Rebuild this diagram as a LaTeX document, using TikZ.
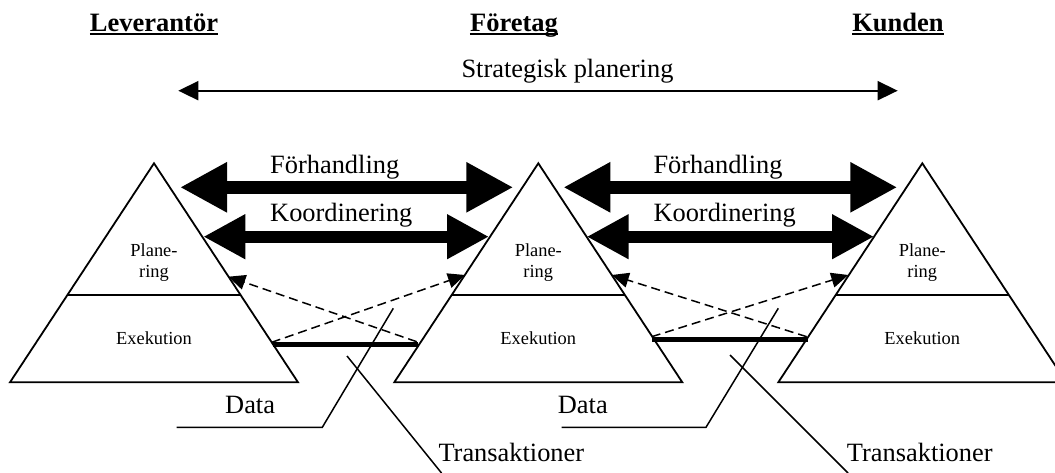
\documentclass[tikz,border=0pt]{standalone}
\usepackage{fontspec}
\setmainfont{Liberation Serif}
\usetikzlibrary{arrows.meta}
\begin{document}
\begin{tikzpicture}[x=1pt,y=-1pt,
  lbl/.style={inner sep=0pt, font=\fontsize{26.4}{30}\selectfont},
  head/.style={inner sep=0pt, font=\fontsize{26.5}{30}\selectfont\bfseries},
  small/.style={inner sep=0pt, font=\fontsize{18.4}{21.3}\selectfont},
  pyr/.style={line width=1.8pt, line join=miter},
  ul/.style={line width=2.4pt},
  strat/.style={line width=1.8pt, {Triangle[length=20pt,width=19pt]}-{Triangle[length=20pt,width=19pt]}},
  fatA/.style={line width=13pt, {Triangle[length=47pt,width=47pt]}-{Triangle[length=47pt,width=47pt]}},
  fatB/.style={line width=12pt, {Triangle[length=42pt,width=42pt]}-{Triangle[length=42pt,width=42pt]}},
  flow/.style={line width=1.5pt, dash pattern=on 9pt off 5pt, -{Triangle[length=17pt,width=15pt]}},
  trans/.style={line width=5pt},
  lead/.style={line width=1.5pt},
]
\useasboundingbox (0,0) rectangle (1055,473);
\clip (0,0) rectangle (1055,473);

% headings
\node[head, anchor=base] (lev) at (154,32) {Leverantör};
\node[head, anchor=base] (for) at (514,32) {Företag};
\node[head, anchor=base] (kun) at (898,32) {Kunden};
\foreach \h in {lev,for,kun}
  \draw[ul] ([yshift=-2pt]\h.base west) -- ([yshift=-2pt]\h.base east);

% strategic planning across the whole chain
\node[lbl, anchor=base] (strat) at (567.5,77.3) {Strategisk planering};
\coordinate (sL) at (178.3,90.7);
\coordinate (sR) at (897.7,90.7);
\draw[strat] (sL) -- (sR);

% the three pyramids
\foreach \n/\ax in {1/154,2/538.3,3/922.3} {
  \coordinate (top\n) at (\ax,163.3);
  \coordinate (bl\n) at (\ax-144,382.3);
  \coordinate (br\n) at (\ax+144,382.3);
  \coordinate (dl\n) at (\ax-86.6,295);
  \coordinate (dr\n) at (\ax+86.6,295);
  \draw[pyr] (top\n) -- (br\n) -- (bl\n) -- cycle;
  \draw[pyr] (dl\n) -- (dr\n);
  \node[small, anchor=base] (pla\n) at (\ax,256) {Plane-};
  \node[small, anchor=base] (rin\n) at (\ax,277.3) {ring};
  \node[small, anchor=base] (exe\n) at (\ax,344) {Exekution};
}

% negotiation and coordination arrows
\node[lbl, anchor=base west] (neg12) at (270,173.3) {Förhandling};
\node[lbl, anchor=base west] (koo12) at (270,221.7) {Koordinering};
\node[lbl, anchor=base west] (neg23) at (653.3,173.3) {Förhandling};
\node[lbl, anchor=base west] (koo23) at (653.3,221.7) {Koordinering};

\coordinate (nA1) at (180,187.3);   \coordinate (nA2) at (513.3,187.3);
\coordinate (kA1) at (203.3,236.7); \coordinate (kA2) at (489,236.7);
\coordinate (nB1) at (563.3,187.3); \coordinate (nB2) at (897.3,187.3);
\coordinate (kB1) at (586.7,236.7); \coordinate (kB2) at (874,236.7);
\draw[fatA] (nA1) -- (nA2);
\draw[fatB] (kA1) -- (kA2);
\draw[fatA] (nB1) -- (nB2);
\draw[fatB] (kB1) -- (kB2);

% data flows from execution to planning
\coordinate (dA1) at (416.7,341.7); \coordinate (dA2) at (228.3,276.7);
\coordinate (dA3) at (271.7,342.3); \coordinate (dA4) at (465,275);
\coordinate (dB1) at (806.7,336.7); \coordinate (dB2) at (611.7,275);
\coordinate (dB3) at (651.7,336.7); \coordinate (dB4) at (848.3,275);
\draw[flow] (dA1) -- (dA2);
\draw[flow] (dA3) -- (dA4);
\draw[flow] (dB1) -- (dB2);
\draw[flow] (dB3) -- (dB4);

% transactions between execution levels
\coordinate (tA1) at (273.3,344); \coordinate (tA2) at (418.3,344);
\coordinate (tB1) at (651.7,339); \coordinate (tB2) at (808.3,339);
\draw[trans] (tA1) -- (tA2);
\draw[trans] (tB1) -- (tB2);

% labels with leader lines
\node[lbl, anchor=base west] (data1) at (225,413.3) {Data};
\node[lbl, anchor=base west] (data2) at (557.7,413.3) {Data};
\node[lbl, anchor=base west] (tr1) at (438.3,461.7) {Transaktioner};
\node[lbl, anchor=base west] (tr2) at (846.7,461.7) {Transaktioner};

\coordinate (lD1a) at (176.7,427.3); \coordinate (lD1b) at (322.3,427.3); \coordinate (lD1c) at (393.3,308.3);
\coordinate (lD2a) at (561.7,427.3); \coordinate (lD2b) at (706,427.3);   \coordinate (lD2c) at (778.3,308.3);
\draw[lead] (lD1a) -- (lD1b) -- (lD1c);
\draw[lead] (lD2a) -- (lD2b) -- (lD2c);

\coordinate (lT1a) at (347,356); \coordinate (lT1b) at (441.5,473);
\coordinate (lT2a) at (730,355); \coordinate (lT2b) at (848,473);
\draw[lead] (lT1a) -- (lT1b);
\draw[lead] (lT2a) -- (lT2b);
\end{tikzpicture}
\end{document}
